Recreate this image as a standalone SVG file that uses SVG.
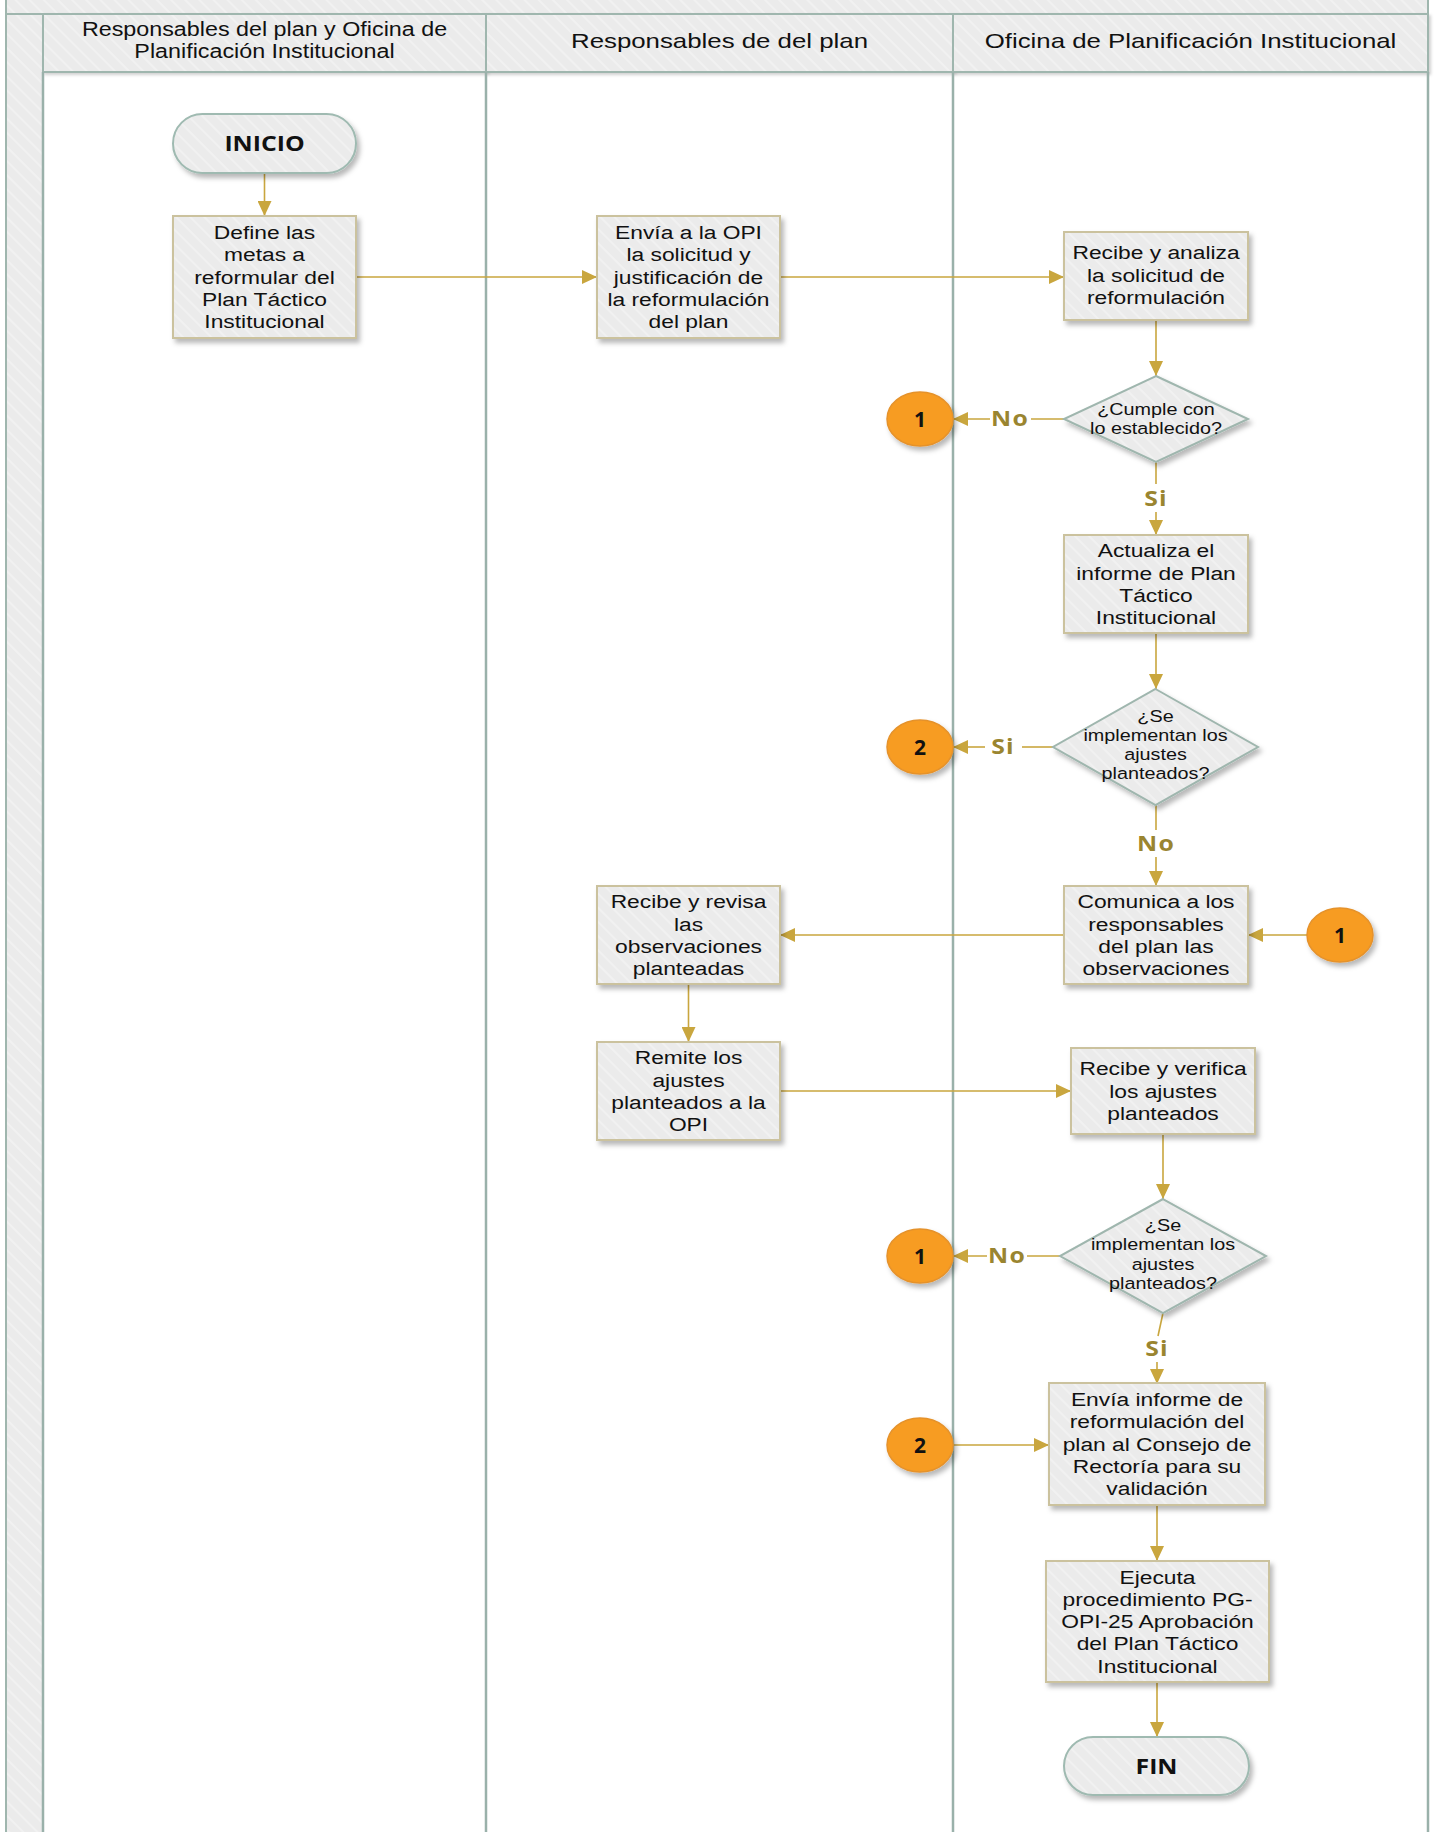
<svg xmlns="http://www.w3.org/2000/svg" width="1437" height="1832" viewBox="0 0 1437 1832">
<defs>
<pattern id="st" width="10" height="10" patternUnits="userSpaceOnUse" patternTransform="rotate(-45)">
<rect width="10" height="10" fill="#EBEBEB"/>
<rect width="2" height="10" fill="#F1F1F1"/>
</pattern>
<filter id="sh" x="-10%" y="-10%" width="130%" height="130%">
<feDropShadow dx="3" dy="4" stdDeviation="2.5" flood-color="#000" flood-opacity="0.28"/>
</filter>
<filter id="lsh" x="-10%" y="-10%" width="130%" height="130%">
<feDropShadow dx="2" dy="2" stdDeviation="1.5" flood-color="#000" flood-opacity="0.18"/>
</filter>
<marker id="ar" markerWidth="15" markerHeight="14" refX="15" refY="7" orient="auto" markerUnits="userSpaceOnUse">
<path d="M0,0 L15,7 L0,14 z" fill="#C9A63E"/>
</marker>
</defs>
<style>
.lane{fill:url(#st);stroke:#9FB6AE;stroke-width:2}
.lline{stroke:#9AB1AA;stroke-width:2.5;fill:none}
.box{fill:url(#st);stroke:#CBC29E;stroke-width:2;filter:url(#sh)}
.term{fill:url(#st);stroke:#9FBAB1;stroke-width:2;filter:url(#sh)}
.dia{fill:url(#st);stroke:#9FB6AE;stroke-width:2;filter:url(#sh)}
.circ{fill:#F79C22;stroke:#E5922C;stroke-width:1.5;filter:url(#sh)}
.t{font-family:"Liberation Sans",Arial,sans-serif;font-size:19px;fill:#111;text-anchor:middle}
.h{font-family:"Liberation Sans",Arial,sans-serif;font-size:21px;fill:#111;text-anchor:middle}
.d{font-family:"Liberation Sans",Arial,sans-serif;font-size:16.5px;fill:#111;text-anchor:middle}
.b{font-family:"Open Sans","DejaVu Sans",sans-serif;font-weight:bold;font-size:21px;fill:#111;text-anchor:middle}
.lb{font-family:"Open Sans","DejaVu Sans",sans-serif;font-weight:bold;font-size:21px;fill:#9A8530;text-anchor:middle;letter-spacing:1px}
.c{stroke:#C9A63E;stroke-width:1.6;fill:none}
.ca{stroke:#C9A63E;stroke-width:1.6;fill:none;marker-end:url(#ar)}
</style>
<rect width="1437" height="1832" fill="#FFFFFF"/>

<g id="lanes">
<rect class="lane" x="6" y="-2" width="1422" height="16"/>
<rect class="lane" x="6" y="14" width="37" height="1830"/>
<rect class="lane" x="43" y="14" width="443" height="58" filter="url(#lsh)"/>
<rect class="lane" x="486" y="14" width="467" height="58" filter="url(#lsh)"/>
<rect class="lane" x="953" y="14" width="475" height="58" filter="url(#lsh)"/>
<line class="lline" x1="43" y1="72" x2="43" y2="1832"/>
<line class="lline" x1="486" y1="72" x2="486" y2="1832"/>
<line class="lline" x1="953" y1="72" x2="953" y2="1832"/>
<line class="lline" x1="1428" y1="72" x2="1428" y2="1832"/>
<text class="h" transform="translate(264.5 0) scale(1.11 1)"><tspan x="0" y="36">Responsables del plan y Oficina de</tspan><tspan x="0" y="58">Planificación Institucional</tspan></text>
<text class="h" transform="translate(719.5 0) scale(1.23 1)"><tspan x="0" y="48">Responsables de del plan</tspan></text>
<text class="h" transform="translate(1190.5 0) scale(1.23 1)"><tspan x="0" y="48">Oficina de Planificación Institucional</tspan></text>
</g>

<g id="connectors">
<line class="ca" x1="264.5" y1="173" x2="264.5" y2="216"/>
<line class="ca" x1="356" y1="277" x2="597" y2="277"/>
<line class="ca" x1="780" y1="277" x2="1064" y2="277"/>
<line class="ca" x1="1156" y1="320" x2="1156" y2="376"/>
<line class="c" x1="1064" y1="419" x2="1031" y2="419"/>
<line class="ca" x1="990" y1="419" x2="953" y2="419"/>
<text class="lb" transform="translate(1010 0) scale(1.18 1)" x="0" y="426">No</text>
<line class="c" x1="1156" y1="462" x2="1156" y2="484"/>
<line class="ca" x1="1156" y1="512" x2="1156" y2="535"/>
<text class="lb" transform="translate(1156 0) scale(1.18 1)" x="0" y="506">Si</text>
<line class="ca" x1="1156" y1="633" x2="1156" y2="689"/>
<line class="c" x1="1053" y1="747" x2="1022" y2="747"/>
<line class="ca" x1="985" y1="747" x2="953" y2="747"/>
<text class="lb" transform="translate(1003 0) scale(1.18 1)" x="0" y="754">Si</text>
<line class="c" x1="1156" y1="805" x2="1156" y2="830"/>
<line class="ca" x1="1156" y1="857" x2="1156" y2="886"/>
<text class="lb" transform="translate(1156 0) scale(1.18 1)" x="0" y="851">No</text>
<line class="ca" x1="1307" y1="935" x2="1248" y2="935"/>
<line class="ca" x1="1064" y1="935" x2="780" y2="935"/>
<line class="ca" x1="688.5" y1="984" x2="688.5" y2="1042"/>
<line class="ca" x1="780" y1="1091" x2="1071" y2="1091"/>
<line class="ca" x1="1163" y1="1134" x2="1163" y2="1199"/>
<line class="c" x1="1060" y1="1256" x2="1027" y2="1256"/>
<line class="ca" x1="987" y1="1256" x2="953" y2="1256"/>
<text class="lb" transform="translate(1007 0) scale(1.18 1)" x="0" y="1263">No</text>
<line class="c" x1="1163" y1="1313" x2="1158" y2="1336"/>
<line class="ca" x1="1157" y1="1362" x2="1157" y2="1384"/>
<text class="lb" transform="translate(1157 0) scale(1.18 1)" x="0" y="1356">Si</text>
<line class="ca" x1="953" y1="1445" x2="1049" y2="1445"/>
<line class="ca" x1="1157" y1="1505" x2="1157" y2="1561"/>
<line class="ca" x1="1157" y1="1682" x2="1157" y2="1737"/>
</g>

<g id="inicio">
<rect class="term" x="173" y="114" width="183" height="59" rx="29.5"/>
<text class="b" transform="translate(264.5 0) scale(1.18 1)" x="0" y="151">INICIO</text>
</g>

<g id="define">
<rect class="box" x="173" y="216" width="183" height="122"/>
<text class="t" transform="translate(264.5 0) scale(1.2 1)"><tspan x="0" y="239.3">Define las</tspan><tspan x="0" y="261.5">metas a</tspan><tspan x="0" y="283.7">reformular del</tspan><tspan x="0" y="305.9">Plan Táctico</tspan><tspan x="0" y="328.1">Institucional</tspan></text>
</g>

<g id="envia">
<rect class="box" x="597" y="216" width="183" height="122"/>
<text class="t" transform="translate(688.5 0) scale(1.2 1)"><tspan x="0" y="239.3">Envía a la OPI</tspan><tspan x="0" y="261.5">la solicitud y</tspan><tspan x="0" y="283.7">justificación de</tspan><tspan x="0" y="305.9">la reformulación</tspan><tspan x="0" y="328.1">del plan</tspan></text>
</g>

<g id="recibe-analiza">
<rect class="box" x="1064" y="232" width="184" height="88"/>
<text class="t" transform="translate(1156 0) scale(1.2 1)"><tspan x="0" y="259.5">Recibe y analiza</tspan><tspan x="0" y="281.7">la solicitud de</tspan><tspan x="0" y="303.9">reformulación</tspan></text>
</g>

<g id="cumple">
<polygon class="dia" points="1156,376 1248,419 1156,462 1064,419"/>
<text class="d" transform="translate(1156 0) scale(1.2 1)"><tspan x="0" y="415">¿Cumple con</tspan><tspan x="0" y="434">lo establecido?</tspan></text>
</g>

<g id="c1a">
<ellipse class="circ" cx="920" cy="419" rx="33" ry="27"/>
<text class="b" x="920" y="427">1</text>
</g>

<g id="actualiza">
<rect class="box" x="1064" y="535" width="184" height="98"/>
<text class="t" transform="translate(1156 0) scale(1.2 1)"><tspan x="0" y="557.4">Actualiza el</tspan><tspan x="0" y="579.6">informe de Plan</tspan><tspan x="0" y="601.8">Táctico</tspan><tspan x="0" y="624">Institucional</tspan></text>
</g>

<g id="implementan1">
<polygon class="dia" points="1155.5,689 1258,747 1155.5,805 1053,747"/>
<text class="d" transform="translate(1155.5 0) scale(1.2 1)"><tspan x="0" y="722">¿Se</tspan><tspan x="0" y="741">implementan los</tspan><tspan x="0" y="760">ajustes</tspan><tspan x="0" y="779">planteados?</tspan></text>
</g>

<g id="c2a">
<ellipse class="circ" cx="920" cy="747" rx="33" ry="27"/>
<text class="b" x="920" y="755">2</text>
</g>

<g id="comunica">
<rect class="box" x="1064" y="886" width="184" height="98"/>
<text class="t" transform="translate(1156 0) scale(1.2 1)"><tspan x="0" y="908.4">Comunica a los</tspan><tspan x="0" y="930.6">responsables</tspan><tspan x="0" y="952.8">del plan las</tspan><tspan x="0" y="975">observaciones</tspan></text>
</g>

<g id="c1b">
<ellipse class="circ" cx="1340" cy="935" rx="33" ry="27"/>
<text class="b" x="1340" y="943">1</text>
</g>

<g id="recibe-revisa">
<rect class="box" x="597" y="886" width="183" height="98"/>
<text class="t" transform="translate(688.5 0) scale(1.2 1)"><tspan x="0" y="908.4">Recibe y revisa</tspan><tspan x="0" y="930.6">las</tspan><tspan x="0" y="952.8">observaciones</tspan><tspan x="0" y="975">planteadas</tspan></text>
</g>

<g id="remite">
<rect class="box" x="597" y="1042" width="183" height="98"/>
<text class="t" transform="translate(688.5 0) scale(1.2 1)"><tspan x="0" y="1064.4">Remite los</tspan><tspan x="0" y="1086.6">ajustes</tspan><tspan x="0" y="1108.8">planteados a la</tspan><tspan x="0" y="1131">OPI</tspan></text>
</g>

<g id="recibe-verifica">
<rect class="box" x="1071" y="1048" width="184" height="86"/>
<text class="t" transform="translate(1163 0) scale(1.2 1)"><tspan x="0" y="1075.5">Recibe y verifica</tspan><tspan x="0" y="1097.7">los ajustes</tspan><tspan x="0" y="1119.9">planteados</tspan></text>
</g>

<g id="implementan2">
<polygon class="dia" points="1163,1199 1266,1256 1163,1313 1060,1256"/>
<text class="d" transform="translate(1163 0) scale(1.2 1)"><tspan x="0" y="1231">¿Se</tspan><tspan x="0" y="1250.5">implementan los</tspan><tspan x="0" y="1270">ajustes</tspan><tspan x="0" y="1289.5">planteados?</tspan></text>
</g>

<g id="c1c">
<ellipse class="circ" cx="920" cy="1256" rx="33" ry="27"/>
<text class="b" x="920" y="1264">1</text>
</g>

<g id="envia-informe">
<rect class="box" x="1049" y="1383" width="216" height="122"/>
<text class="t" transform="translate(1157 0) scale(1.2 1)"><tspan x="0" y="1406.3">Envía informe de</tspan><tspan x="0" y="1428.5">reformulación del</tspan><tspan x="0" y="1450.7">plan al Consejo de</tspan><tspan x="0" y="1472.9">Rectoría para su</tspan><tspan x="0" y="1495.1">validación</tspan></text>
</g>

<g id="c2b">
<ellipse class="circ" cx="920" cy="1445" rx="33" ry="27"/>
<text class="b" x="920" y="1453">2</text>
</g>

<g id="ejecuta">
<rect class="box" x="1046" y="1561" width="223" height="121"/>
<text class="t" transform="translate(1157.5 0) scale(1.2 1)"><tspan x="0" y="1583.8">Ejecuta</tspan><tspan x="0" y="1606">procedimiento PG-</tspan><tspan x="0" y="1628.2">OPI-25 Aprobación</tspan><tspan x="0" y="1650.4">del Plan Táctico</tspan><tspan x="0" y="1672.6">Institucional</tspan></text>
</g>

<g id="fin">
<rect class="term" x="1064" y="1737" width="185" height="58" rx="29"/>
<text class="b" transform="translate(1156.5 0) scale(1.18 1)" x="0" y="1774">FIN</text>
</g>
</svg>
